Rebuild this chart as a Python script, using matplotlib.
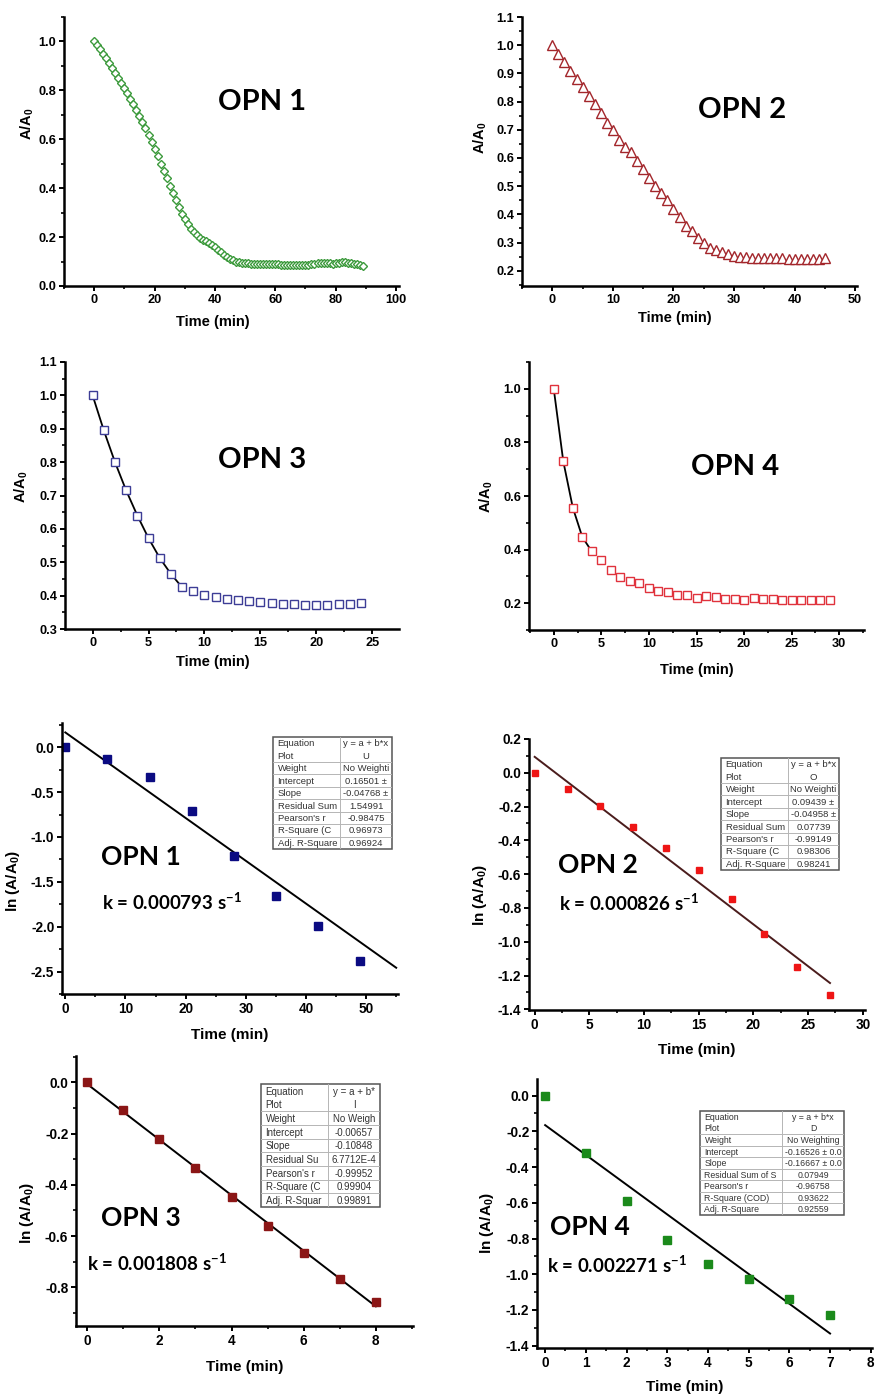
import matplotlib
matplotlib.use('Agg')
import matplotlib.pyplot as plt
from matplotlib.patches import Rectangle
from matplotlib.ticker import MultipleLocator, FormatStrFormatter

W, H = 876, 1395

plt.rcParams['font.family'] = ['Liberation Sans', 'DejaVu Sans']
plt.rcParams['font.weight'] = 'bold'
plt.rcParams['axes.labelweight'] = 'bold'
plt.rcParams['axes.unicode_minus'] = False
plt.rcParams['mathtext.fontset'] = 'custom'
plt.rcParams['mathtext.rm'] = 'Liberation Sans:bold'
plt.rcParams['mathtext.it'] = 'Liberation Sans:bold'
plt.rcParams['mathtext.bf'] = 'Liberation Sans:bold'
plt.rcParams['mathtext.sf'] = 'Lato:bold'
plt.rcParams['mathtext.default'] = 'rm'

# A/A0 decay curves, time in min
t1 = list(range(0, 90))
a1 = [1.000, 0.985, 0.968, 0.950, 0.932, 0.913, 0.893, 0.873, 0.852, 0.831,
      0.810, 0.788, 0.766, 0.743, 0.720, 0.697, 0.672, 0.646, 0.618, 0.590,
      0.560, 0.530, 0.500, 0.470, 0.440, 0.410, 0.380, 0.350, 0.322, 0.296,
      0.272, 0.252, 0.234, 0.220, 0.208, 0.198, 0.190, 0.182, 0.175, 0.167,
      0.158, 0.148, 0.138, 0.128, 0.119, 0.111, 0.105, 0.100, 0.097, 0.095,
      0.094, 0.093, 0.092, 0.092, 0.091, 0.091, 0.090, 0.090, 0.090, 0.090,
      0.089, 0.088, 0.087, 0.086, 0.085, 0.085, 0.085, 0.085, 0.084, 0.084,
      0.085, 0.086, 0.088, 0.090, 0.093, 0.095, 0.096, 0.095, 0.093, 0.090,
      0.093, 0.096, 0.097, 0.097, 0.096, 0.094, 0.092, 0.090, 0.087, 0.080]

t2 = list(range(0, 46))
a2 = [1.000, 0.970, 0.940, 0.910, 0.880, 0.850, 0.820, 0.790, 0.760, 0.725,
      0.700, 0.665, 0.640, 0.620, 0.590, 0.560, 0.530, 0.500, 0.475, 0.450,
      0.420, 0.390, 0.360, 0.340, 0.315, 0.298, 0.282, 0.272, 0.266, 0.260,
      0.254, 0.250, 0.248, 0.247, 0.247, 0.246, 0.245, 0.244, 0.244, 0.243,
      0.243, 0.243, 0.243, 0.243, 0.243, 0.245]

t3 = list(range(0, 25))
a3 = [1.000, 0.895, 0.800, 0.715, 0.640, 0.572, 0.513, 0.465, 0.425, 0.415,
      0.403, 0.397, 0.390, 0.387, 0.384, 0.382, 0.379, 0.376, 0.374, 0.373,
      0.372, 0.373, 0.374, 0.376, 0.378]

t4 = list(range(0, 30))
a4 = [1.000, 0.730, 0.557, 0.447, 0.393, 0.360, 0.325, 0.296, 0.283, 0.274,
      0.258, 0.247, 0.243, 0.230, 0.230, 0.219, 0.226, 0.223, 0.216, 0.217,
      0.211, 0.218, 0.215, 0.214, 0.212, 0.211, 0.213, 0.212, 0.211, 0.212]

# ln(A/A0) points and linear fits (intercept, slope)
lt1 = [0, 7, 14, 21, 28, 35, 42, 49]
ln1 = [0.0, -0.13, -0.334, -0.71, -1.207, -1.657, -1.987, -2.377]
fit1 = (0.16501, -0.04768)
fx1 = [0, 55]

lt2 = [0, 3, 6, 9, 12, 15, 18, 21, 24, 27]
ln2 = [0.0, -0.093, -0.198, -0.321, -0.448, -0.578, -0.749, -0.956, -1.147, -1.315]
fit2 = (0.09439, -0.04958)
fx2 = [0, 27]

lt3 = [0, 1, 2, 3, 4, 5, 6, 7, 8]
ln3 = [0.0, -0.109, -0.221, -0.334, -0.447, -0.559, -0.667, -0.767, -0.859]
fit3 = (-0.00657, -0.10848)
fx3 = [0, 8]

lt4 = [0, 1, 2, 3, 4, 5, 6, 7]
ln4 = [0.0, -0.32, -0.59, -0.81, -0.94, -1.025, -1.14, -1.23]
fit4 = (-0.16526, -0.16667)
fx4 = [0, 7]

names = ['OPN 1', 'OPN 2', 'OPN 3', 'OPN 4']
k_texts = ['k = 0.000793 s$^{\\mathsf{-1}}$', 'k = 0.000826 s$^{\\mathsf{-1}}$',
           'k = 0.001808 s$^{\\mathsf{-1}}$', 'k = 0.002271 s$^{\\mathsf{-1}}$']

# fit report tables
tab1_l = ['Equation', 'Plot', 'Weight', 'Intercept', 'Slope', 'Residual Sum',
          "Pearson's r", 'R-Square (C', 'Adj. R-Square']
tab1_r = ['y = a + b*x', 'U', 'No Weighti', '0.16501 \u00b1', '-0.04768 \u00b1',
          '1.54991', '-0.98475', '0.96973', '0.96924']
tab2_l = tab1_l
tab2_r = ['y = a + b*x', 'O', 'No Weighti', '0.09439 \u00b1', '-0.04958 \u00b1',
          '0.07739', '-0.99149', '0.98306', '0.98241']
tab3_l = ['Equation', 'Plot', 'Weight', 'Intercept', 'Slope', 'Residual Su',
          "Pearson's r", 'R-Square (C', 'Adj. R-Squar']
tab3_r = ['y = a + b*', 'I', 'No Weigh', '-0.00657', '-0.10848', '6.7712E-4',
          '-0.99952', '0.99904', '0.99891']
tab4_l = ['Equation', 'Plot', 'Weight', 'Intercept', 'Slope', 'Residual Sum of S',
          "Pearson's r", 'R-Square (COD)', 'Adj. R-Square']
tab4_r = ['y = a + b*x', 'D', 'No Weighting', '-0.16526 \u00b1 0.0', '-0.16667 \u00b1 0.0',
          '0.07949', '-0.96758', '0.93622', '0.92559']

fig = plt.figure(figsize=(W / 100, H / 100), dpi=100)
SANS = ['Liberation Sans', 'DejaVu Sans']


def frac(box, x, y):
    l, t, r, b = box
    return (x - l) / (r - l), (b - y) / (b - t)


def panel(box, xlim, ylim, xmaj, ymaj, xlab, ylab, xlpos, ylpos, fs=9.2, lfs=10.5):
    l, t, r, b = box
    ax = fig.add_axes([l / W, 1 - b / H, (r - l) / W, (b - t) / H])
    ax.set_xlim(*xlim)
    ax.set_ylim(*ylim)
    ax.spines['top'].set_visible(False)
    ax.spines['right'].set_visible(False)
    for s in ('left', 'bottom'):
        ax.spines[s].set_linewidth(1.8)
    ax.xaxis.set_major_locator(MultipleLocator(xmaj))
    ax.xaxis.set_minor_locator(MultipleLocator(xmaj / 2))
    ax.yaxis.set_major_locator(MultipleLocator(ymaj))
    ax.yaxis.set_minor_locator(MultipleLocator(ymaj / 2))
    ax.yaxis.set_major_formatter(FormatStrFormatter('%.1f'))
    ax.tick_params(which='major', direction='out', length=3.5, width=1.4,
                   labelsize=fs, pad=2)
    ax.tick_params(which='minor', direction='out', length=2, width=1.2)
    for lbl in ax.get_xticklabels() + ax.get_yticklabels():
        lbl.set_fontweight('bold')
        lbl.set_family(SANS)
    ax.set_xlabel(xlab, fontsize=lfs, va='center', fontweight='bold', family=SANS)
    ax.set_ylabel(ylab, fontsize=lfs, va='center', fontweight='bold', family=SANS)
    ax.xaxis.set_label_coords(*frac(box, *xlpos))
    ax.yaxis.set_label_coords(*frac(box, *ylpos))
    return ax


def big_text(ax, box, pos, s, size):
    ax.text(*frac(box, *pos), s, transform=ax.transAxes, ha='center', va='center',
            family=['Lato', 'DejaVu Sans'], weight='bold', fontsize=size)


def table(box, split, left, right, fs=7):
    l, t, r, b = box
    tax = fig.add_axes([l / W, 1 - b / H, (r - l) / W, (b - t) / H])
    n = len(left)
    tax.set_xlim(0, 1)
    tax.set_ylim(n, 0)
    tax.axis('off')
    sx = (split - l) / (r - l)
    for i in range(2, n):
        tax.plot([0, 1], [i, i], color='#b5b5b5', lw=0.7)
    tax.plot([sx, sx], [0, n], color='#b5b5b5', lw=0.7)
    tax.add_patch(Rectangle((0, 0), 1, n, fill=False, ec='#555555', lw=1.1,
                            clip_on=False))
    x0 = 4.5 / (r - l)
    for i, (a, v) in enumerate(zip(left, right)):
        tax.text(x0, i + 0.55, a, ha='left', va='center', fontsize=fs,
                 weight='normal', color='#333333', family=SANS)
        tax.text((sx + 1) / 2, i + 0.55, v, ha='center', va='center', fontsize=fs,
                 weight='normal', color='#333333', family=SANS)


ylab_a = 'A/A$_0$'
ylab_ln = 'ln (A/A$_0$)'
xlab = 'Time (min)'

# top row: decay curves
b1 = (64, 17, 399, 286)
ax1 = panel(b1, (-10, 101), (0, 1.1), 20, 0.2, xlab, ylab_a, (213, 322), (27, 124))
ax1.plot(t1, a1, ls='none', marker='D', ms=4.4, mfc='white', mec='#3c9a3c', mew=1.0)
big_text(ax1, b1, (262, 102), names[0], 21)

b2 = (522, 17, 857, 286)
ax2 = panel(b2, (-5, 50.3), (0.146, 1.1), 10, 0.1, xlab, ylab_a, (675, 318), (480, 138))
ax2.plot(t2, a2, ls='none', marker='^', ms=7, mfc='white', mec='#a3262b', mew=1.0)
big_text(ax2, b2, (742, 110), names[1], 21)

b3 = (65, 362, 399, 629)
ax3 = panel(b3, (-2.47, 27.4), (0.3, 1.1), 5, 0.1, xlab, ylab_a, (213, 662), (21, 487))
ax3.plot(t3[:9], a3[:9], color='black', lw=1.3)
ax3.plot(t3, a3, ls='none', marker='s', ms=5.3, mfc='white', mec='#3d3d96', mew=1.0)
big_text(ax3, b3, (262, 460), names[2], 21)

b4 = (529, 362, 864, 630)
ax4 = panel(b4, (-2.6, 32.6), (0.1, 1.1), 5, 0.2, xlab, ylab_a, (697, 670), (486, 497))
ax4.plot(t4[:5], a4[:5], color='black', lw=1.3)
ax4.plot(t4, a4, ls='none', marker='s', ms=5.3, mfc='white', mec='#e0323c', mew=1.0)
big_text(ax4, b4, (735, 467), names[3], 21)

# bottom rows: ln(A/A0) with linear fits
b5 = (62, 723, 398, 994)
ax5 = panel(b5, (-0.55, 55.3), (-2.75, 0.27), 10, 0.5, xlab, ylab_ln, (230, 1035), (13, 881),
            fs=9.8, lfs=11)
ax5.plot(fx1, [fit1[0] + fit1[1] * x for x in fx1], color='black', lw=1.4)
ax5.plot(lt1, ln1, ls='none', marker='s', ms=5.2, color='#0b0b82')
big_text(ax5, b5, (141, 857), names[0], 19)
big_text(ax5, b5, (172, 902), k_texts[0], 13.5)
table((273, 737, 392, 849), 340, tab1_l, tab1_r, fs=6.8)

b6 = (529, 739, 865, 1010)
ax6 = panel(b6, (-0.52, 30.2), (-1.404, 0.2), 5, 0.2, xlab, ylab_ln, (697, 1050), (480, 895),
            fs=9.8, lfs=11)
ax6.plot(fx2, [fit2[0] + fit2[1] * x for x in fx2], color='#4a1c1c', lw=1.4)
ax6.plot(lt2, ln2, ls='none', marker='s', ms=5.0, color='#ee1515')
big_text(ax6, b6, (598, 865), names[1], 19)
big_text(ax6, b6, (629, 903), k_texts[1], 13.5)
table((721, 758, 839, 870), 788, tab2_l, tab2_r, fs=6.8)

b7 = (76, 1056, 413, 1326)
ax7 = panel(b7, (-0.31, 9.03), (-0.951, 0.103), 2, 0.2, xlab, ylab_ln, (245, 1367), (27, 1213),
            fs=9.8, lfs=11)
ax7.plot(fx3, [fit3[0] + fit3[1] * x for x in fx3], color='black', lw=1.4)
ax7.plot(lt3, ln3, ls='none', marker='s', ms=5.2, color='#8b1616')
big_text(ax7, b7, (141, 1218), names[2], 19)
big_text(ax7, b7, (157, 1263), k_texts[2], 13.5)
table((261, 1084, 380, 1207), 328, tab3_l, tab3_r, fs=7)

b8 = (537, 1079, 872, 1348)
ax8 = panel(b8, (-0.2, 8.03), (-1.413, 0.093), 1, 0.2, xlab, ylab_ln, (685, 1387), (487, 1223),
            fs=9.8, lfs=11)
ax8.yaxis.set_minor_locator(MultipleLocator(0.1))
ax8.plot(fx4, [fit4[0] + fit4[1] * x for x in fx4], color='black', lw=1.4)
ax8.plot(lt4, ln4, ls='none', marker='s', ms=5.2, color='#1b8a1b')
big_text(ax8, b8, (590, 1227), names[3], 19)
big_text(ax8, b8, (617, 1265), k_texts[3], 13.5)
table((700, 1111, 844, 1215), 782, tab4_l, tab4_r, fs=6.3)

fig.savefig('out.png', dpi=100)
